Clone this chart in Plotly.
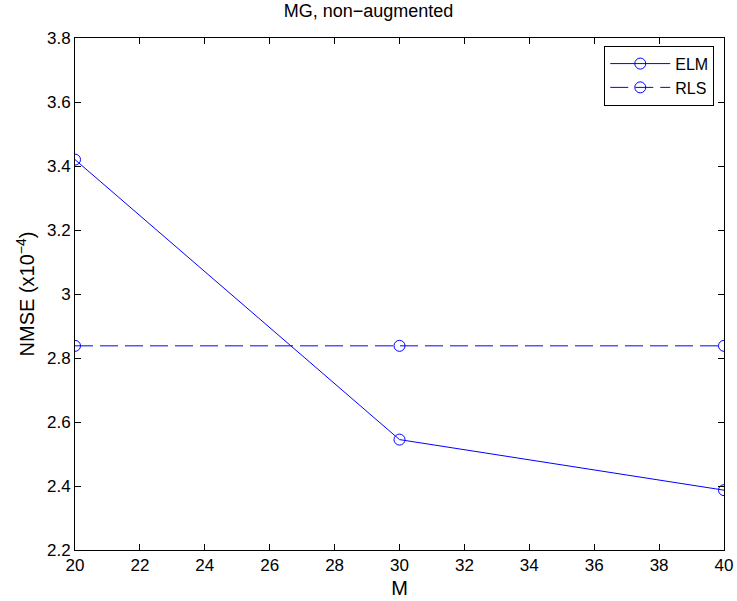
import plotly.graph_objects as go

M = [20, 30, 40]
elm = [3.42, 2.545, 2.387]
rls = [2.838, 2.838, 2.838]

x_ticks = list(range(20, 41, 2))
y_ticks = [2.2, 2.4, 2.6, 2.8, 3.0, 3.2, 3.4, 3.6, 3.8]
y_labels = ["2.2", "2.4", "2.6", "2.8", "3", "3.2", "3.4", "3.6", "3.8"]

blue = "rgb(0,0,255)"
fig = go.Figure()
fig.add_trace(go.Scatter(x=M, y=elm, name="ELM", mode="lines+markers",
                         line=dict(color=blue, width=1),
                         marker=dict(symbol="circle-open", size=11, color=blue, line=dict(width=1))))
fig.add_trace(go.Scatter(x=M, y=rls, name="RLS", mode="lines+markers",
                         line=dict(color=blue, width=1, dash="18px,7px"),
                         marker=dict(symbol="circle-open", size=11, color=blue, line=dict(width=1))))

axis_common = dict(showline=True, linecolor="black", linewidth=1, mirror="ticks",
                   ticks="inside", ticklen=6, tickcolor="black", showgrid=False,
                   zeroline=False, tickfont=dict(size=17, color="black"))

fig.update_layout(
    width=737, height=601,
    margin=dict(l=75, r=13, t=38, b=51, autoexpand=False),
    paper_bgcolor="white", plot_bgcolor="white",
    font=dict(family="Liberation Sans, Arial, sans-serif", size=17, color="black"),
    title=dict(text="MG, non\u2212augmented", x=0.5, xanchor="center", y=0.992, yanchor="top",
               font=dict(size=18, color="black")),
    xaxis=dict(range=[20, 40], tickvals=x_ticks, title=dict(text="M", standoff=6), **axis_common),
    yaxis=dict(range=[2.2, 3.8], tickvals=y_ticks, ticktext=y_labels,
               title=dict(text="NMSE (x10<sup>\u22124</sup>)", standoff=6), **axis_common),
    legend=dict(x=0.985, y=0.985, xanchor="right", yanchor="top", bordercolor="black",
                borderwidth=1, bgcolor="white", font=dict(size=16), itemwidth=60,
                tracegroupgap=0),
    showlegend=True,
)

# remove the default page margin so the figure sits at the window's corner
post = "document.body.style.margin='0';document.body.style.overflow='hidden';"
fig.write_html("out.html", post_script=post, config={"displayModeBar": False})
